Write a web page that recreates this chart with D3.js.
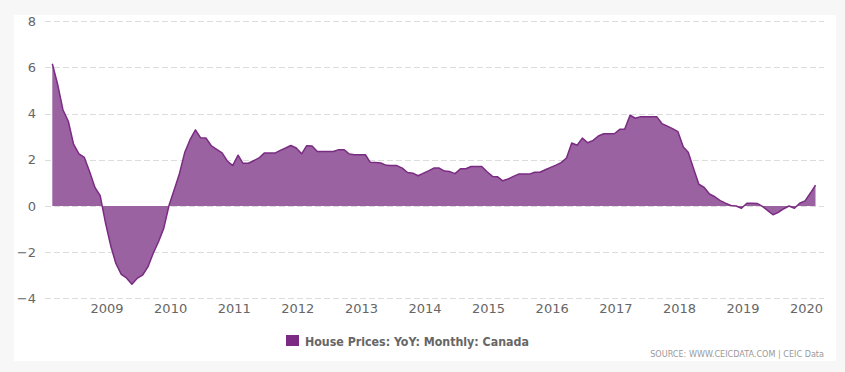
<!DOCTYPE html>
<html>
<head>
<meta charset="utf-8">
<script src="https://cdn.jsdelivr.net/npm/d3@7/dist/d3.min.js"></script>
<style>
  html, body { margin: 0; padding: 0; background: #f7f7f7; }
  svg { display: block; }
</style>
</head>
<body>
<svg id="chart" width="845" height="372"></svg>
<script>
// ---- Data (House Prices: YoY: Monthly: Canada, %), monthly from Mar 2008 to Mar 2020 ----
const startMonth = "2008-03";
const endMonth = "2020-03";
const values = [
  6.16, 5.26, 4.17, 3.67, 2.68, 2.26, 2.10, 1.49, 0.80, 0.45,
  -0.75, -1.77, -2.49, -2.96, -3.12, -3.39, -3.14, -3.00, -2.64, -2.06,
  -1.55, -0.97, 0.04, 0.75, 1.40, 2.33, 2.87, 3.30, 2.95, 2.94,
  2.60, 2.45, 2.30, 1.95, 1.75, 2.20, 1.85, 1.85, 1.96, 2.08,
  2.29, 2.29, 2.29, 2.41, 2.51, 2.62, 2.51, 2.26, 2.61, 2.60,
  2.36, 2.36, 2.36, 2.36, 2.44, 2.44, 2.25, 2.22, 2.22, 2.22,
  1.89, 1.88, 1.86, 1.76, 1.75, 1.75, 1.64, 1.45, 1.42, 1.31,
  1.42, 1.53, 1.64, 1.64, 1.51, 1.49, 1.40, 1.61, 1.61, 1.71,
  1.71, 1.71, 1.48, 1.28, 1.27, 1.09, 1.17, 1.28, 1.38, 1.38,
  1.38, 1.46, 1.46, 1.57, 1.67, 1.77, 1.88, 2.08, 2.73, 2.63,
  2.94, 2.74, 2.84, 3.03, 3.13, 3.13, 3.13, 3.32, 3.32, 3.93,
  3.80, 3.87, 3.87, 3.87, 3.87, 3.57, 3.46, 3.35, 3.22, 2.55,
  2.33, 1.61, 0.94, 0.80, 0.52, 0.40, 0.23, 0.12, 0.02, 0.00,
  -0.10, 0.12, 0.12, 0.11, -0.02, -0.20, -0.38, -0.28, -0.12, 0.00,
  -0.10, 0.12, 0.22, 0.56, 0.90
];
const yTicks = [-4, -2, 0, 2, 4, 6, 8];
const xTickLabels = ["2009","2010","2011","2012","2013","2014","2015","2016","2017","2018","2019","2020"];
const seriesName = "House Prices: YoY: Monthly: Canada";
const sourceText = "SOURCE: WWW.CEICDATA.COM | CEIC Data";

// ---- Build ----
const parseMonth = d3.timeParse("%Y-%m");
const parseYear = d3.timeParse("%Y");
const t0 = parseMonth(startMonth), t1 = parseMonth(endMonth);
const months = d3.timeMonth.range(t0, d3.timeMonth.offset(t1, 1));
const data = values.map((v, i) => ({ date: months[i], value: v }));

const svg = d3.select("#chart");

// white panel
svg.append("rect").attr("x", 14).attr("y", 15).attr("width", 822).attr("height", 346).attr("fill", "#ffffff");

const x = d3.scaleTime().domain([t0, t1]).range([52.3, 815.5]);
const y = d3.scaleLinear().domain([-4, 8]).range([298.3, 21.3]);

// grid
svg.append("g").selectAll("line").data(yTicks).join("line")
  .attr("x1", 45).attr("x2", 824)
  .attr("y1", d => Math.round(y(d)) + 0.5).attr("y2", d => Math.round(y(d)) + 0.5)
  .attr("stroke", "#dcdcdc").attr("stroke-width", 1).attr("stroke-dasharray", "6,3");

// y labels
const yAxis = d3.axisLeft(y).tickValues(yTicks).tickSize(0).tickPadding(0)
  .tickFormat(d => d < 0 ? "\u2212" + Math.abs(d) : String(d));
const gy = svg.append("g").attr("transform", "translate(36,0)").call(yAxis);
gy.select(".domain").remove();
gy.selectAll("text").attr("font-family", "DejaVu Sans, Verdana, sans-serif").attr("font-size", 13).attr("fill", "#666");

// x labels
const xAxis = d3.axisBottom(x).tickValues(xTickLabels.map(s => parseYear(s))).tickSize(0).tickPadding(0)
  .tickFormat(d3.timeFormat("%Y"));
const gx = svg.append("g").attr("transform", "translate(1,304)").call(xAxis);
gx.select(".domain").remove();
gx.selectAll("text").attr("font-family", "DejaVu Sans, Verdana, sans-serif").attr("font-size", 13).attr("fill", "#666");

// area
const area = d3.area().x(d => x(d.date)).y0(y(0)).y1(d => y(d.value));
svg.append("path").datum(data).attr("d", area).attr("fill", "#9a62a0");
const line = d3.line().x(d => x(d.date)).y(d => y(d.value));
svg.append("path").datum(data).attr("d", line).attr("fill", "none").attr("stroke", "#7a2c82").attr("stroke-width", 1.5).attr("stroke-linejoin", "round");

// legend
const lg = svg.append("g");
lg.append("rect").attr("x", 286).attr("y", 335).attr("width", 13).attr("height", 11).attr("fill", "#7b2b83");
lg.append("text").attr("x", 305).attr("y", 345.5).text(seriesName)
  .attr("font-family", "DejaVu Sans Condensed, DejaVu Sans, sans-serif").attr("font-weight", "bold")
  .attr("font-size", 12.3).attr("fill", "#666");

// source
svg.append("text").attr("x", 824).attr("y", 357).attr("text-anchor", "end").text(sourceText)
  .attr("font-family", "DejaVu Sans Condensed, DejaVu Sans, sans-serif").attr("font-size", 9).attr("fill", "#999");
</script>
</body>
</html>
